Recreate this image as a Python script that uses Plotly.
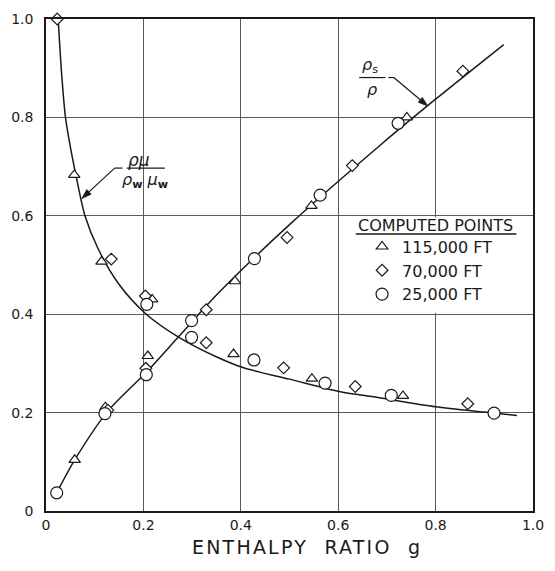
import math
import plotly.graph_objects as go

# ---------------- data ----------------
# fitted curve rho_s / rho
curve_s_x = [0.022, 0.059, 0.127, 0.206, 0.273, 0.353, 0.50, 0.688, 0.80, 0.94]
curve_s_y = [0.037, 0.104, 0.203, 0.282, 0.355, 0.442, 0.582, 0.745, 0.837, 0.948]

# fitted curve rho*mu / (rho_w * mu_w)
curve_m_x = [0.025, 0.032, 0.040, 0.050, 0.062, 0.080, 0.106, 0.149, 0.206, 0.273,
             0.353, 0.406, 0.500, 0.607, 0.673, 0.800, 0.900, 0.967]
curve_m_y = [1.000, 0.890, 0.800, 0.740, 0.680, 0.600, 0.535, 0.462, 0.400, 0.353,
             0.312, 0.291, 0.268, 0.242, 0.232, 0.212, 0.201, 0.194]

# computed points
tri_x = [0.059, 0.122, 0.058, 0.114, 0.218, 0.209, 0.388, 0.385, 0.545, 0.546, 0.733, 0.741]
tri_y = [0.104, 0.211, 0.683, 0.507, 0.430, 0.315, 0.467, 0.319, 0.620, 0.269, 0.234, 0.800]

dia_x = [0.023, 0.134, 0.127, 0.204, 0.205, 0.329, 0.329, 0.495, 0.488, 0.629, 0.635, 0.856, 0.866]
dia_y = [1.000, 0.512, 0.205, 0.437, 0.290, 0.409, 0.342, 0.556, 0.291, 0.702, 0.253, 0.894, 0.218]

cir_x = [0.022, 0.121, 0.207, 0.206, 0.299, 0.299, 0.428, 0.427, 0.563, 0.573, 0.709, 0.723, 0.920]
cir_y = [0.037, 0.198, 0.420, 0.277, 0.387, 0.353, 0.513, 0.307, 0.642, 0.260, 0.235, 0.788, 0.199]

series_names = ["115,000 FT", "70,000 FT", "25,000 FT"]
tick_vals = [0, 0.2, 0.4, 0.6, 0.8, 1.0]
tick_text = ["0", "0.2", "0.4", "0.6", "0.8", "1.0"]

FONT = "DejaVu Sans"
INK = "#1a1a1a"

W, H = 555, 571
ML, MR, MT, MB = 44, 12, 11, 60
PX = W - ML - MR   # pixels per x unit
PY = H - MT - MB   # pixels per y unit

fig = go.Figure()

for cx, cy in [(curve_s_x, curve_s_y), (curve_m_x, curve_m_y)]:
    fig.add_trace(go.Scatter(
        x=cx, y=cy, mode="lines",
        line=dict(color=INK, width=1.5, shape="spline", smoothing=0.8),
        showlegend=False, hoverinfo="skip", cliponaxis=False))

for xs, ys, sym, size, name in [
    (tri_x, tri_y, "triangle-up", 10, series_names[0]),
    (dia_x, dia_y, "diamond", 9, series_names[1]),
    (cir_x, cir_y, "circle", 12, series_names[2]),
]:
    fig.add_trace(go.Scatter(
        x=xs, y=ys, mode="markers", name=name,
        marker=dict(symbol=sym, size=size, color="white",
                    line=dict(color=INK, width=1.2)),
        cliponaxis=False))


def leader(sx, sy, tx, ty, length=10.0, half=3.2):
    """leader line from (sx,sy) to arrow tip (tx,ty), returns shapes"""
    dx, dy = (tx - sx) * PX, (ty - sy) * PY
    d = math.hypot(dx, dy)
    ux, uy = dx / d, dy / d
    bx, by = -ux * length, -uy * length
    nx, ny = -uy * half, ux * half
    base = (tx + bx / PX, ty + by / PY)
    p1 = (base[0] + nx / PX, base[1] + ny / PY)
    p2 = (base[0] - nx / PX, base[1] - ny / PY)
    path = "M {:.5f},{:.5f} L {:.5f},{:.5f} L {:.5f},{:.5f} Z".format(tx, ty, *p1, *p2)
    return [
        dict(type="line", xref="x", yref="y", x0=sx, y0=sy, x1=base[0], y1=base[1],
             line=dict(color=INK, width=1.2)),
        dict(type="path", xref="x", yref="y", path=path, fillcolor=INK,
             line=dict(color=INK, width=0.8)),
    ]


shapes = [
    # white area behind the legend
    dict(type="rect", xref="x", yref="y", x0=0.61, x1=0.997, y0=0.403, y1=0.597,
         fillcolor="white", line=dict(width=0), layer="between"),
    # underline of the legend title
    dict(type="line", xref="paper", yref="paper", x0=0.636, x1=0.966, y0=0.563, y1=0.563,
         line=dict(color=INK, width=1.5)),
    # fraction bars
    dict(type="line", xref="x", yref="y", x0=0.166, x1=0.244, y0=0.697, y1=0.697,
         line=dict(color=INK, width=1.2)),
    dict(type="line", xref="x", yref="y", x0=0.643, x1=0.697, y0=0.881, y1=0.881,
         line=dict(color=INK, width=1.2)),
    # horizontal parts of the leaders
    dict(type="line", xref="x", yref="y", x0=0.141, x1=0.157, y0=0.697, y1=0.697,
         line=dict(color=INK, width=1.2)),
    dict(type="line", xref="x", yref="y", x0=0.703, x1=0.714, y0=0.881, y1=0.881,
         line=dict(color=INK, width=1.2)),
]
shapes += leader(0.141, 0.697, 0.0735, 0.635)
shapes += leader(0.714, 0.881, 0.784, 0.823)

annotations = [
    # rho mu / rho_w mu_w
    dict(x=0.19, y=0.713, xref="x", yref="y", text="<i>ρμ</i>", showarrow=False,
         font=dict(family=FONT, size=17, color=INK)),
    dict(x=0.204, y=0.672, xref="x", yref="y",
         text="<i>ρ</i><sub><b>w</b></sub> <i>μ</i><sub><b>w</b></sub>", showarrow=False,
         font=dict(family=FONT, size=16, color=INK)),
    # rho_s / rho
    dict(x=0.665, y=0.905, xref="x", yref="y", text="<i>ρ</i><sub>s</sub>", showarrow=False,
         font=dict(family=FONT, size=16, color=INK)),
    dict(x=0.670, y=0.857, xref="x", yref="y", text="<i>ρ</i>", showarrow=False,
         font=dict(family=FONT, size=16, color=INK)),
    # legend title
    dict(x=0.8, y=0.58, xref="paper", yref="paper", text="COMPUTED POINTS", showarrow=False,
         font=dict(family=FONT, size=16, color=INK), xanchor="center", yanchor="middle"),
    # x axis title
    dict(x=0.535, y=-0.074, xref="paper", yref="paper",
         text='<span style="letter-spacing:2.2px">ENTHALPY  RATIO  g</span>',
         showarrow=False, font=dict(family=FONT, size=19, color=INK),
         xanchor="center", yanchor="middle"),
]

axis_common = dict(
    range=[0, 1], tickvals=tick_vals, ticktext=tick_text,
    showgrid=True, gridcolor="#5a5a5a", gridwidth=1,
    showline=True, linecolor=INK, linewidth=1.6, mirror=True,
    zeroline=False, ticks="", tickfont=dict(family=FONT, size=14, color=INK),
    fixedrange=True,
)

fig.update_layout(
    width=W, height=H,
    margin=dict(l=ML, r=MR, t=MT, b=MB),
    paper_bgcolor="white", plot_bgcolor="white",
    xaxis=dict(**axis_common),
    yaxis=dict(**axis_common, ticklabelstandoff=8),
    shapes=shapes, annotations=annotations,
    showlegend=True,
    legend=dict(x=0.649, y=0.572, xanchor="left", yanchor="top",
                bgcolor="rgba(0,0,0,0)", font=dict(family=FONT, size=16, color=INK),
                itemwidth=30, tracegroupgap=0),
)

fig.write_html("out.html")
